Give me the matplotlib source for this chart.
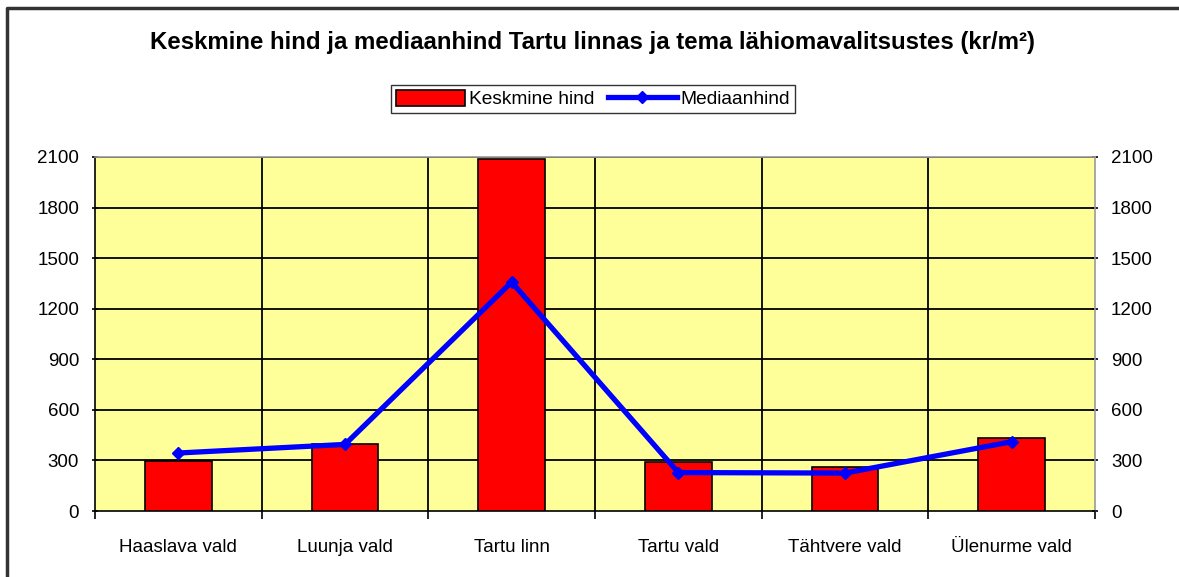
import matplotlib.pyplot as plt
import numpy as np
from matplotlib.lines import Line2D

plt.rcParams['font.family'] = ['Liberation Sans', 'DejaVu Sans']

categories = ['Haaslava vald', 'Luunja vald', 'Tartu linn', 'Tartu vald', 'Tähtvere vald', 'Ülenurme vald']
keskmine = [298, 397, 2090, 290, 262, 433]
mediaan = [344, 395, 1358, 228, 225, 411]
yticks = [0, 300, 600, 900, 1200, 1500, 1800, 2100]

W, H = 1179, 577
fig = plt.figure(figsize=(W / 100, H / 100), dpi=100)
ax = fig.add_axes([95 / W, 1 - 511 / H, 1000 / W, 354 / H])
ax.set_facecolor('#ffff99')

x = np.arange(len(categories))
ax.bar(x, keskmine, width=0.4, color='#ff0000', edgecolor='black', linewidth=1.2, zorder=3,
       label='Keskmine hind')
ax.plot(x, mediaan, color='#0000ff', linewidth=3.8, marker='D', markersize=6, zorder=4,
        label='Mediaanhind')

ax.set_xlim(-0.5, len(categories) - 0.5)
ax.set_ylim(0, 2100)
ax.set_yticks(yticks)
ax.set_yticklabels([str(v) for v in yticks], fontsize=13.5)

# category boundaries as ticks and vertical grid lines
bounds = np.arange(len(categories) + 1) - 0.5
ax.set_xticks(bounds)
ax.set_xticklabels([])
ax.set_xticks(x, minor=True)
ax.set_xticklabels(categories, minor=True, fontsize=13.5)
ax.tick_params(axis='x', which='minor', length=0, pad=20)
ax.tick_params(axis='x', which='major', length=6, width=1.2, direction='out')
ax.tick_params(axis='y', length=5, width=1.2, direction='inout', right=True,
               labelright=True, pad=9)
for b in bounds[1:-1]:
    ax.axvline(b, color='black', linewidth=1.3, zorder=1)
for v in yticks[1:]:
    ax.axhline(v, color='black', linewidth=1.3, zorder=1)
for s in ax.spines.values():
    s.set_linewidth(1.2)
ax.spines['top'].set_color('#999999')
ax.spines['right'].set_color('#999999')

handles = [plt.Rectangle((0, 0), 1, 1, facecolor='#ff0000', edgecolor='black', linewidth=1.2),
           Line2D([], [], color='#0000ff', linewidth=3.8, marker='D', markersize=6)]
fig.legend(handles, ['Keskmine hind', 'Mediaanhind'], loc='center', bbox_to_anchor=(593 / W, 1 - 99 / H),
           ncol=2, fontsize=13.8, frameon=True, fancybox=False, edgecolor='black',
           handlelength=3.6, handleheight=0.9, handletextpad=0.2, columnspacing=0.7, borderpad=0.25)

fig.text(592 / W, 1 - 43 / H, 'Keskmine hind ja mediaanhind Tartu linnas ja tema lähiomavalitsustes (kr/m²)',
         ha='center', va='center', fontsize=17.3, fontweight='bold')

# outer chart border (top and left edges visible)
fig.add_artist(Line2D([6.5 / W, 6.5 / W, 1], [0, 1 - 7.5 / H, 1 - 7.5 / H],
                      transform=fig.transFigure, color='#333333', linewidth=2.5))

fig.savefig('out.png', dpi=100)
